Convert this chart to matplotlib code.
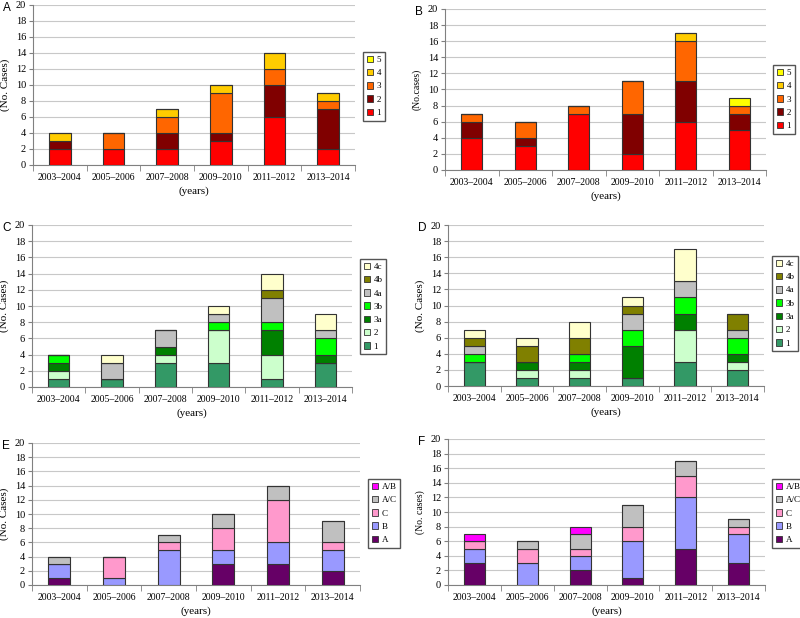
import matplotlib.pyplot as plt
from matplotlib.patches import Patch

# categories
periods = ["2003–2004", "2005–2006", "2007–2008", "2009–2010", "2011–2012", "2013–2014"]

# panels A and B: stages 1-5
stage_labels = ["1", "2", "3", "4", "5"]
stage_colors = ["#FF0000", "#800000", "#FF6600", "#FFCC00", "#FFFF00"]
a_1 = [2, 2, 2, 3, 6, 2]
a_2 = [1, 0, 2, 1, 4, 5]
a_3 = [0, 2, 2, 5, 2, 1]
a_4 = [1, 0, 1, 1, 2, 1]
a_5 = [0, 0, 0, 0, 0, 0]
b_1 = [4, 3, 7, 2, 6, 5]
b_2 = [2, 1, 0, 5, 5, 2]
b_3 = [1, 2, 1, 4, 5, 1]
b_4 = [0, 0, 0, 0, 1, 0]
b_5 = [0, 0, 0, 0, 0, 1]

# panels C and D: sub-stages
sub_labels = ["1", "2", "3a", "3b", "4a", "4b", "4c"]
sub_colors = ["#339966", "#CCFFCC", "#008000", "#00FF00", "#C0C0C0", "#808000", "#FFFFCC"]
c_1 = [1, 1, 3, 3, 1, 3]
c_2 = [1, 0, 1, 4, 3, 0]
c_3a = [1, 0, 1, 0, 3, 1]
c_3b = [1, 0, 0, 1, 1, 2]
c_4a = [0, 2, 2, 1, 3, 1]
c_4b = [0, 0, 0, 0, 1, 0]
c_4c = [0, 1, 0, 1, 2, 2]
d_1 = [3, 1, 1, 1, 3, 2]
d_2 = [0, 1, 1, 0, 4, 1]
d_3a = [0, 1, 1, 4, 2, 1]
d_3b = [1, 0, 1, 2, 2, 2]
d_4a = [1, 0, 0, 2, 2, 1]
d_4b = [1, 2, 2, 1, 0, 2]
d_4c = [1, 1, 2, 1, 4, 0]

# panels E and F: types
type_labels = ["A", "B", "C", "A/C", "A/B"]
type_colors = ["#660066", "#9999FF", "#FF99CC", "#C0C0C0", "#FF00FF"]
e_A = [1, 0, 0, 3, 3, 2]
e_B = [2, 1, 5, 2, 3, 3]
e_C = [0, 3, 1, 3, 6, 1]
e_AC = [1, 0, 1, 2, 2, 3]
e_AB = [0, 0, 0, 0, 0, 0]
f_A = [3, 0, 2, 1, 5, 3]
f_B = [2, 3, 2, 5, 7, 4]
f_C = [1, 2, 1, 2, 3, 1]
f_AC = [0, 1, 2, 3, 2, 1]
f_AB = [1, 0, 1, 0, 0, 0]

W, H = 800, 618
serif = "Liberation Serif"

fig = plt.figure(figsize=(8, 6.18), dpi=100)


def panel(letter, box, series, labels, colors, ylab, leg_xy, ylab_size=8):
    x0, x1, ytop, ybot = box
    ax = fig.add_axes([x0 / W, 1 - ybot / H, (x1 - x0) / W, (ybot - ytop) / H])
    x = range(len(periods))
    bottom = [0] * len(periods)
    for vals, col in zip(series, colors):
        ax.bar(x, vals, width=0.4, bottom=bottom, color=col,
               edgecolor="#333333", linewidth=0.8, zorder=3)
        bottom = [b + v for b, v in zip(bottom, vals)]
    ax.set_xlim(-0.5, 5.5)
    ax.set_ylim(0, 20)
    ax.set_yticks(range(0, 21, 2))
    ax.set_yticklabels([str(v) for v in range(0, 21, 2)], fontfamily=serif, fontsize=7.5)
    ax.set_xticks(list(x))
    ax.set_xticklabels(periods, fontfamily=serif, fontsize=7)
    ax.set_xticks([i - 0.5 for i in range(7)], minor=True)
    ax.tick_params(axis="x", which="major", length=0, pad=6)
    ax.tick_params(axis="x", which="minor", length=4, color="#808080")
    ax.tick_params(axis="y", length=3, color="#808080", pad=2)
    ax.grid(axis="y", color="#C8C8C8", linewidth=0.8, zorder=0)
    for s in ["top", "right"]:
        ax.spines[s].set_visible(False)
    for s in ["left", "bottom"]:
        ax.spines[s].set_color("#808080")
    ax.set_ylabel(ylab, fontfamily=serif, fontsize=ylab_size, labelpad=4)
    ax.set_xlabel("(years)", fontfamily=serif, fontsize=8, labelpad=3)
    handles = [Patch(facecolor=c, edgecolor="#333333", linewidth=0.6, label=l)
               for l, c in zip(labels, colors)][::-1]
    ax.legend(handles=handles, loc="upper left",
              bbox_to_anchor=(leg_xy[0] / W, 1 - leg_xy[1] / H),
              bbox_transform=fig.transFigure, prop={"family": serif, "size": 6.5},
              frameon=True, fancybox=False, edgecolor="#555555", framealpha=1,
              handlelength=0.7, handleheight=0.7, handletextpad=0.4,
              borderpad=0.4, labelspacing=0.55, borderaxespad=0)
    fig.text((x0 - 30) / W, 1 - (ytop + 3) / H, letter, fontfamily="Liberation Sans",
             fontsize=8.5, va="center", ha="left")
    return ax


panel("A", (33, 355, 5, 165), [a_1, a_2, a_3, a_4, a_5], stage_labels, stage_colors,
      "(No. Cases)", (363, 52))
panel("B", (445, 766, 9, 170), [b_1, b_2, b_3, b_4, b_5], stage_labels, stage_colors,
      "(No.cases)", (773, 65), ylab_size=7)
panel("C", (32, 352, 225, 387), [c_1, c_2, c_3a, c_3b, c_4a, c_4b, c_4c], sub_labels, sub_colors,
      "(No. Cases)", (360, 259))
panel("D", (448, 764, 225, 386), [d_1, d_2, d_3a, d_3b, d_4a, d_4b, d_4c], sub_labels, sub_colors,
      "(No. Cases)", (772, 256))
panel("E", (32, 360, 443, 585), [e_A, e_B, e_C, e_AC, e_AB], type_labels, type_colors,
      "(No. Cases)", (368, 479))
panel("F", (448, 765, 439, 585), [f_A, f_B, f_C, f_AC, f_AB], type_labels, type_colors,
      "(No. cases)", (772, 479), ylab_size=7)

fig.savefig("out.png", dpi=100)
